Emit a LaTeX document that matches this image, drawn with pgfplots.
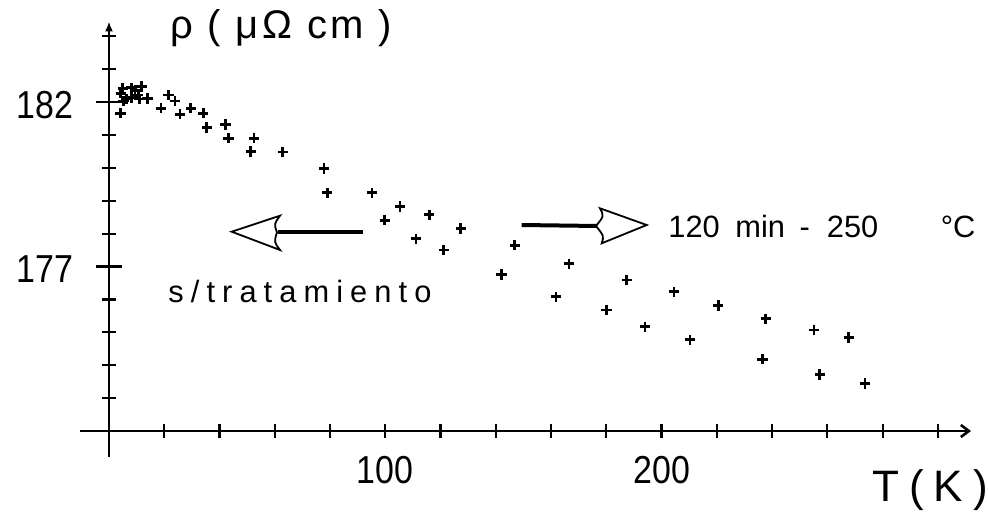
\documentclass[border=0pt]{standalone}
\usepackage{pgfplots}
\pgfplotsset{compat=1.18}
\usepackage{graphicx}
\usepackage{fontspec}
\setmainfont{Liberation Sans}
\usetikzlibrary{arrows.meta}

\pgfplotstableread{
T rho
4.2 181.66
4.3 182.27
5.0 182.42
5.2 182.03
6.4 182.09
8.2 182.43
8.2 182.13
9.4 182.36
10.6 182.21
11.0 182.09
11.8 182.47
14.0 182.11
18.8 181.81
21.5 182.21
23.9 182.03
25.7 181.63
29.6 181.81
34.1 181.66
35.4 181.22
42.2 181.32
43.3 180.90
52.5 180.90
62.9 180.48
77.8 179.98
95.2 179.24
105.3 178.82
115.9 178.57
127.3 178.16
146.9 177.65
166.5 177.08
187.4 176.59
204.5 176.23
220.5 175.82
237.7 175.41
255.2 175.07
267.8 174.84
}\upperdata

\pgfplotstableread{
T rho
51.3 180.49
79.0 179.24
99.8 178.41
111.1 177.84
121.2 177.50
142.1 176.76
161.8 176.08
180.1 175.68
194.0 175.17
210.3 174.77
236.6 174.18
257.3 173.72
273.6 173.45
}\lowerdata

\begin{document}
\begin{tikzpicture}
\useasboundingbox (0,0) rectangle (494pt,258pt);
\begin{axis}[
  at={(54.5pt,42.5pt)}, anchor=south west,
  scale only axis, width=431pt, height=204.8pt,
  xmin=0, xmax=312, ymin=172, ymax=184.45,
  axis x line=bottom, axis y line=left,
  x axis line style={line width=1.3pt, shorten <=-14.5pt, -{Straight Barb[length=4pt,width=6pt]}},
  y axis line style={line width=1.3pt, shorten <=-13pt, -{Latex[length=5pt,width=4pt]}},
  xtick={100,200}, minor xtick={20,40,...,300},
  ytick={177,182}, minor ytick={173,174,...,184},
  tick align=center,
  major tick length=12.5pt, minor tick length=7pt,
  major x tick style={draw=none},
  tick style={line width=1.1pt, black},
  /pgf/number format/assume math mode=true,
  xticklabel={\scalebox{0.87}[1]{\pgfmathprintnumber{\tick}}},
  yticklabel={\scalebox{0.87}[1]{\pgfmathprintnumber{\tick}}},
  ticklabel style={font=\fontsize{19.5}{20}\selectfont},
  xticklabel style={anchor=north, yshift=-3pt},
  yticklabel style={anchor=east, xshift=-8pt, yshift=-1.5pt},
  clip=false,
]
\addplot[only marks, mark=+, mark size=2.6pt, mark options={line width=1.4pt}] table[x=T, y=rho] {\upperdata};
\addplot[only marks, mark=+, mark size=2.6pt, mark options={line width=1.4pt}] table[x=T, y=rho] {\lowerdata};
\end{axis}

% labels
\node[anchor=base west, inner sep=0pt, font=\fontsize{20}{22}\selectfont\addfontfeature{LetterSpace=9}] at (85pt,239pt) {ρ ( μΩ cm )};
\node[anchor=base west, inner sep=0pt, font=\fontsize{22}{24}\selectfont] at (436pt,7.15pt) {\spaceskip=5pt\relax T ( K )};
\node[anchor=base west, inner sep=0pt, font=\fontsize{15.4}{17}\selectfont\addfontfeature{LetterSpace=23}] at (84pt,107pt) {s/tratamiento};
\node[anchor=base west, inner sep=0pt, font=\fontsize{15.4}{17}\selectfont] at (334pt,139.5pt) {120\ \hspace{3.5pt}min\ \hspace{3pt}-\ \ 250\ \hspace{27pt}°C};

% annotation arrows
\draw[line width=2pt] (181.5pt,141.85pt) -- (139pt,141.85pt);
\draw[line width=0.9pt, fill=white] (115.85pt,142.15pt) -- (140pt,150.15pt)
   .. controls (137pt,146pt) .. (138.5pt,141.85pt)
   .. controls (137pt,137pt) .. (140pt,133pt) -- cycle;
\draw[line width=2pt] (260.85pt,145.5pt) -- (299pt,145pt);
\draw[line width=0.9pt, fill=white] (323.35pt,145.5pt) -- (300pt,153.85pt)
   .. controls (302pt,150pt) .. (298pt,145pt)
   .. controls (302pt,140pt) .. (300.85pt,136.35pt) -- cycle;
\end{tikzpicture}
\end{document}
